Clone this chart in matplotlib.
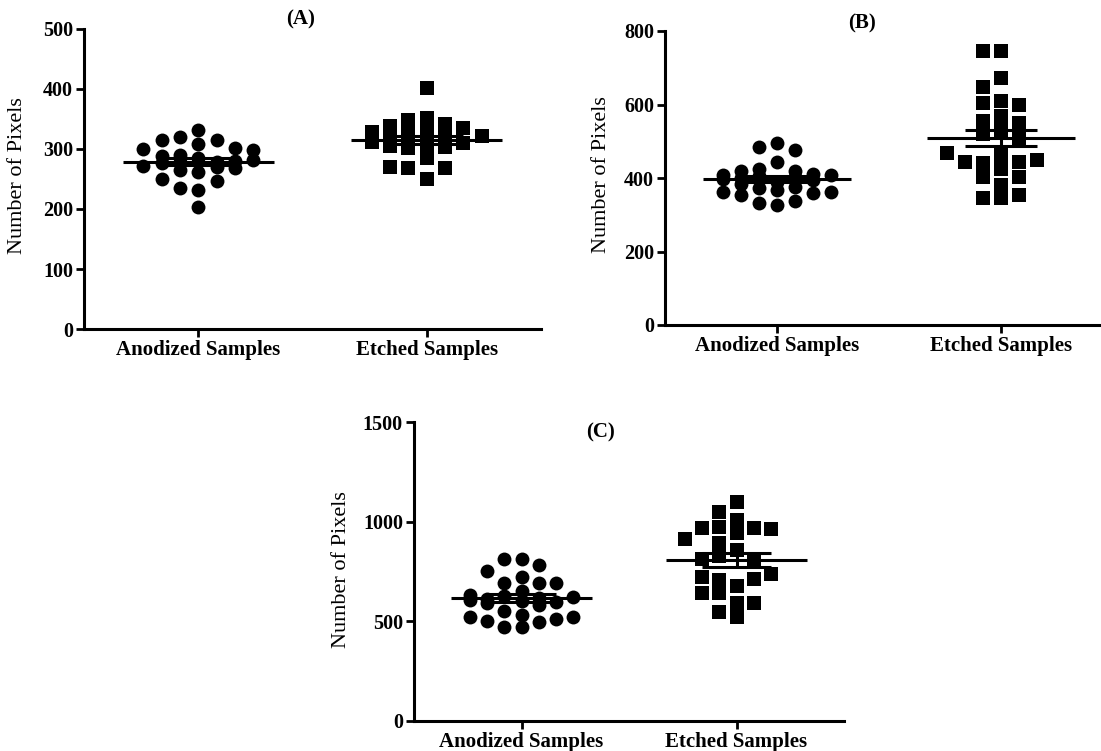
import numpy as np
import matplotlib.pyplot as plt

plt.rcParams['font.family'] = ['Liberation Serif', 'DejaVu Serif']

groups = ['Anodized Samples', 'Etched Samples']

# panel A
a_anod = [332, 320, 315, 315, 308, 302, 300, 298, 290, 288, 285, 282, 280, 278,
          278, 276, 272, 270, 268, 265, 262, 250, 246, 235, 232, 203]
a_etch = [402, 352, 348, 342, 338, 335, 330, 328, 325, 322, 320, 318, 316, 314,
          312, 310, 308, 305, 303, 302, 285, 270, 268, 268, 250]
# panel B
b_anod = [495, 484, 476, 443, 425, 420, 418, 412, 408, 408, 405, 402, 400, 398,
          395, 390, 385, 376, 372, 367, 362, 362, 359, 354, 337, 332, 327]
b_etch = [746, 746, 672, 648, 609, 604, 599, 569, 555, 549, 530, 520, 510, 468,
          463, 449, 444, 444, 441, 425, 403, 403, 381, 354, 346, 346]
# panel C
c_anod = [813, 813, 783, 753, 722, 692, 692, 692, 652, 630, 625, 620, 617, 612,
          608, 600, 595, 590, 580, 552, 530, 522, 522, 510, 500, 495, 472, 472]
c_etch = [1099, 1049, 1009, 973, 968, 968, 963, 943, 913, 893, 858, 830, 815, 800,
          737, 722, 712, 707, 677, 642, 642, 592, 592, 547, 522]

W, H = 1101, 751
fig = plt.figure(figsize=(W / 100, H / 100), dpi=100)


def rect(l, r, t, b):
    return [l / W, (H - b) / H, (r - l) / W, (b - t) / H]


def swarm(ax, vals, mpx, step=0.08, maxcol=3):
    # discrete-column scatter like GraphPad
    y0, y1 = ax.get_ylim()
    hpx = ax.get_position().height * H
    dy = 0.95 * mpx * (y1 - y0) / hpx
    cols = {}
    offs = []
    order = [0] + [s * k for k in range(1, maxcol + 1) for s in (-1, 1)]
    med = np.median(vals)
    idx = np.argsort(-np.abs(vals - med))
    res = np.zeros(len(vals))
    for j in idx:
        v = vals[j]
        best, bestd = 0, -1
        for c in order:
            d = min([abs(v - u) for u in cols.get(c, [])], default=np.inf)
            if d >= dy:
                best = c
                break
            if d > bestd:
                best, bestd = c, d
        cols.setdefault(best, []).append(v)
        res[j] = best * step
    return res


panels = [
    ('(A)', a_anod, a_etch, 500, 100, rect(84, 541, 29, 329), (-0.125, 0.51), (0.473, 1.0)),
    ('(B)', b_anod, b_etch, 800, 200, rect(665, 1113, 31, 325), (-0.12, 0.51), (0.44, 0.99)),
    ('(C)', c_anod, c_etch, 1500, 500, rect(414, 844, 422, 721), (-0.147, 0.505), (0.433, 0.93)),
]

for title, anod, etch, ymax, ystep, pos, lab, tpos in panels:
    ax = fig.add_axes(pos)
    ax.set_xlim(0.5, 2.5)
    ax.set_ylim(0, ymax)
    for i, (vals, mk, mpx, s) in enumerate([(anod, 'o', 14, 100), (etch, 's', 13, 88)]):
        x = i + 1
        vals = np.array(vals, dtype=float)
        off = swarm(ax, vals, mpx)
        ax.scatter(x + off, vals, marker=mk, s=s, color='black', linewidths=0,
                   clip_on=False, zorder=3)
        m = vals.mean()
        sem = vals.std(ddof=1) / np.sqrt(len(vals))
        ax.hlines(m, x - 0.33, x + 0.33, color='black', lw=2.2, zorder=4)
        ax.hlines([m - sem, m + sem], x - 0.16, x + 0.16, color='black', lw=2.2, zorder=4)
        ax.vlines(x, m - sem, m + sem, color='black', lw=2.2, zorder=4)
    ax.set_xticks([1, 2])
    ax.set_xticklabels(groups, fontsize=15, fontweight='bold')
    ax.set_yticks(np.arange(0, ymax + 1, ystep))
    ax.set_yticklabels([str(v) for v in range(0, ymax + 1, ystep)], fontsize=14.5,
                       fontweight='bold')
    ax.set_ylabel('Number of Pixels', fontsize=16)
    ax.yaxis.set_label_coords(*lab)
    ax.spines['top'].set_visible(False)
    ax.spines['right'].set_visible(False)
    for sp in ('left', 'bottom'):
        ax.spines[sp].set_linewidth(2.2)
    ax.tick_params(width=2, length=6, pad=2)
    ax.text(tpos[0], tpos[1], title, transform=ax.transAxes, ha='center', va='bottom',
            fontsize=15, fontweight='bold')

fig.savefig('out.png', dpi=100)
